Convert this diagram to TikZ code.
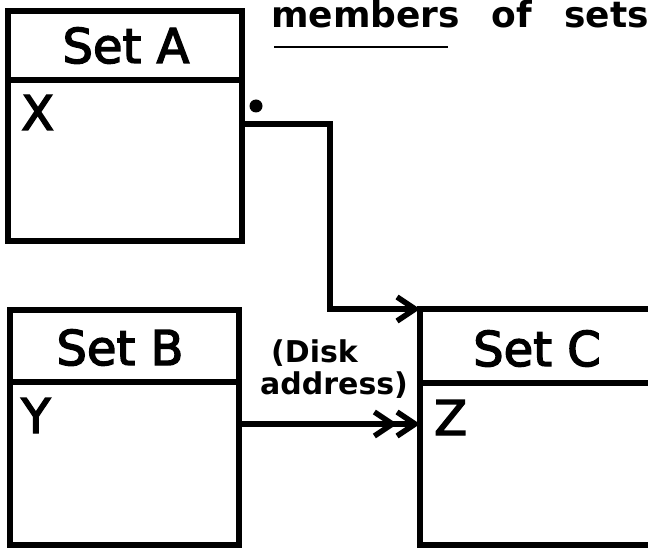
\documentclass[tikz,border=0pt]{standalone}
\usepackage{fontspec}
\setmainfont{DejaVu Sans}
\newfontfamily\heavy{DejaVu Sans}[FakeBold=3]
\newfontfamily\boldsans{DejaVu Sans Bold}
\usetikzlibrary{arrows.meta}
\tikzset{
  box/.style={draw, line width=6pt, outer sep=0pt, inner sep=0pt},
  ttl/.style={inner sep=0pt, anchor=base, font=\heavy\fontsize{48}{50}\selectfont},
  ent/.style={inner sep=0pt, anchor=base west, font=\heavy\fontsize{48}{50}\selectfont},
  conn/.style={line width=5.5pt},
  barb/.tip={Straight Barb[length=18pt,width=24pt]},
}
\begin{document}
\begin{tikzpicture}[x=1pt,y=-1pt]
\useasboundingbox (0,0) rectangle (648,548);
\clip (0,0) rectangle (648,548);
% Set A
\node[box, minimum width=234pt, minimum height=69pt] (Atitle) at (125,45.5) {};
\node[box, minimum width=234pt, minimum height=161pt] (Abody) at (125,160.5) {};
\node[ttl] (tA) at (126,63) {Set A};
\node[ent] (X) at (21,130) {X};
% Set B
\node[box, minimum width=229pt, minimum height=72pt] (Btitle) at (124.5,346) {};
\node[box, minimum width=229pt, minimum height=163pt] (Bbody) at (124.5,463.5) {};
\node[ttl] (tB) at (120,365) {Set B};
\node[ent] (Y) at (21,433) {Y};
% Set C
\node[box, minimum width=300pt, minimum height=74pt, anchor=north west] (Ctitle) at (420,309) {};
\node[box, minimum width=300pt, minimum height=162pt, anchor=north west] (Cbody) at (420,383) {};
\node[ttl] (tC) at (537,366) {Set C};
\node[ent] (Z) at (434,435) {Z};
% heading
\node[inner sep=0pt, anchor=base west, font=\boldsans\fontsize{36}{38}\selectfont] (head) at (271,28)
  {\spaceskip=32pt members of sets};
\coordinate (u1) at (274,47);
\coordinate (u2) at (448,47);
\draw[line width=1.2pt] (u1) -- (u2);
% dot
\node[circle, fill, inner sep=0pt, minimum size=13pt] (dot) at (256,106) {};
% connector A -> C
\coordinate (bend) at (330,124);
\draw[conn, -{barb}] (Abody.east |- bend) -- (bend) |- (Ctitle.north west);
% connector B -> C
\coordinate (ylev) at (300,424);
\draw[conn, -{Straight Barb[length=18pt,width=24pt,sep=-3pt] Straight Barb[length=18pt,width=24pt]}]
  (Bbody.east |- ylev) -- (Cbody.west |- ylev);
% label
\node[inner sep=0pt, align=left, anchor=west,
      font=\boldsans\fontsize{30}{32}\selectfont] (disk) at (260,369.5)
  {\hspace*{11pt}(Disk\\address)};
\end{tikzpicture}
\end{document}
